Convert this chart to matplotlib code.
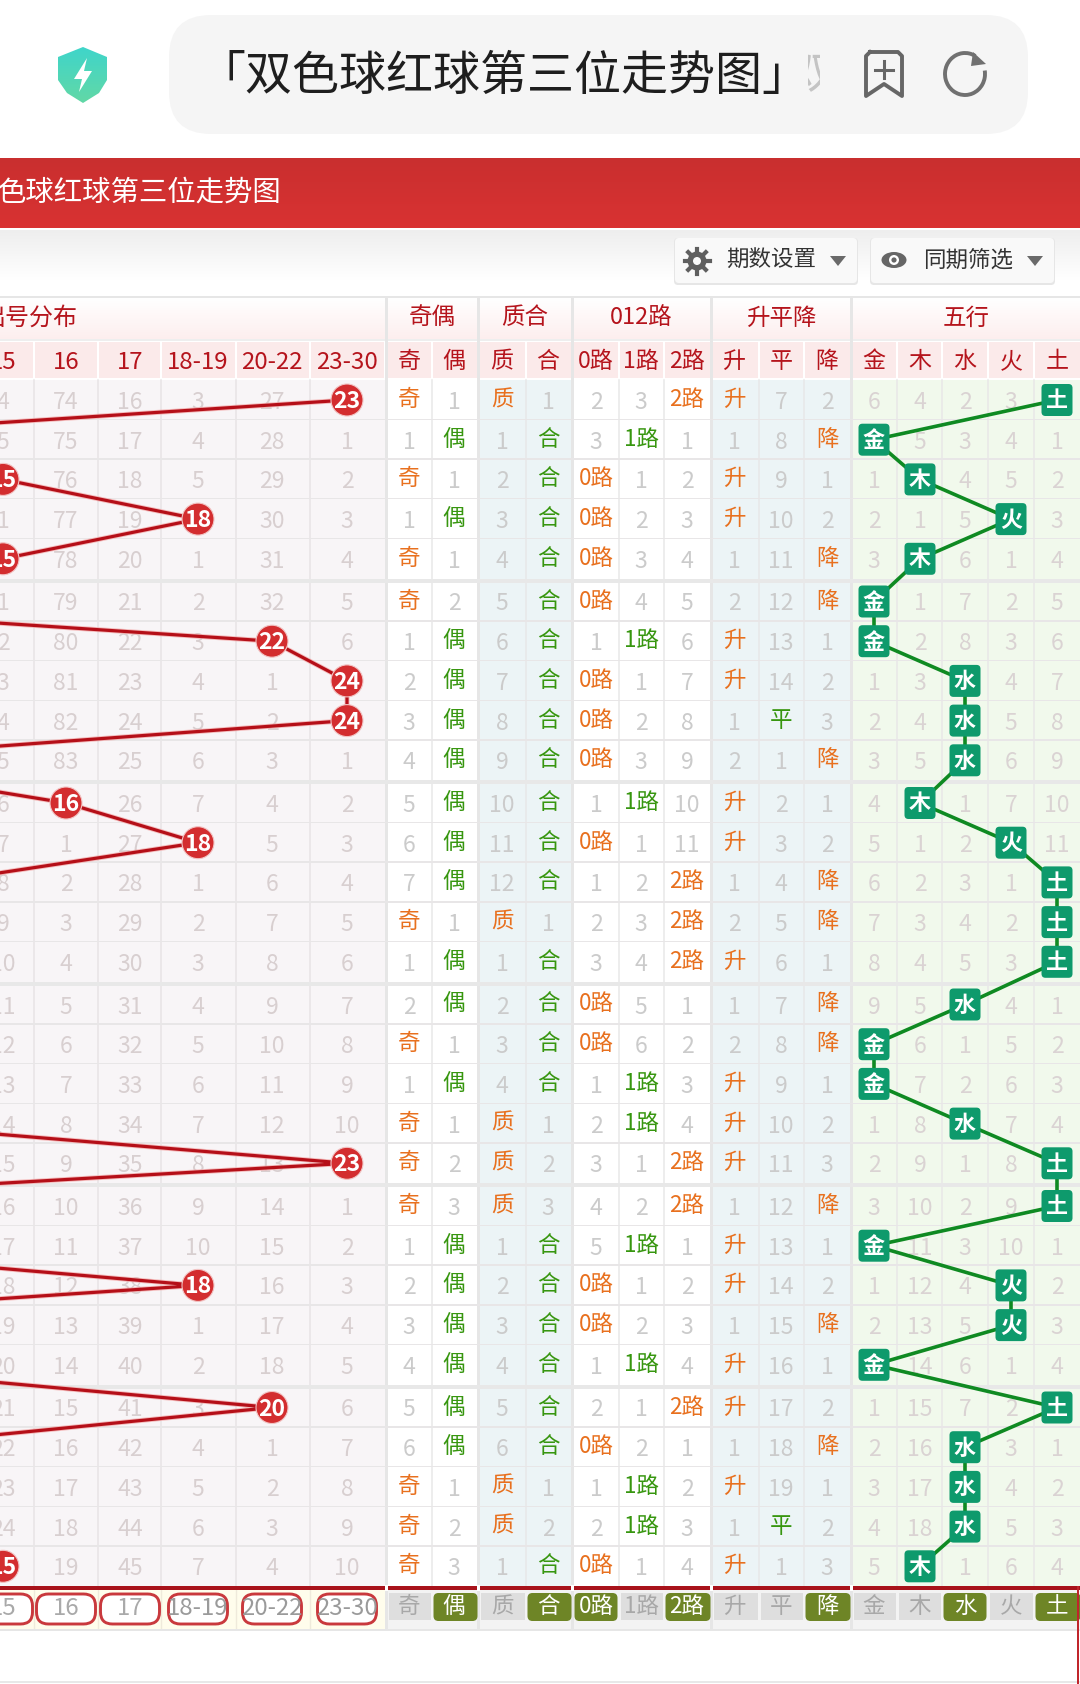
import numpy as np
import matplotlib

matplotlib.use("Agg")

import matplotlib.pyplot as plt
from matplotlib.colors import to_rgb
from matplotlib.patches import Circle, Ellipse, FancyBboxPatch, Polygon, Rectangle, Arc

plt.rcParams["font.family"] = ["Noto Sans CJK SC", "DejaVu Sans"]

# number drawn per row, values below 15 are off the left edge of the screenshot
red_ball = [23, 11, 15, 18, 15, 10, 22, 24, 24, 12, 16, 18, 14, 12, 9, 7, 13, 6, 13, 23,
            9, 11, 18, 9, 12, 20, 13, 10, 8, 15]

col_15 = [4, 5, 0, 1, 0, 1, 2, 3, 4, 5, 6, 7, 8, 9, 10, 11, 12, 13, 14, 15, 16, 17, 18, 19, 20, 21, 22, 23, 24, 0]
col_16 = [74, 75, 76, 77, 78, 79, 80, 81, 82, 83, 0, 1, 2, 3, 4, 5, 6, 7, 8, 9, 10, 11, 12, 13, 14, 15, 16, 17, 18, 19]
col_17 = [16, 17, 18, 19, 20, 21, 22, 23, 24, 25, 26, 27, 28, 29, 30, 31, 32, 33, 34, 35, 36, 37, 38, 39, 40, 41, 42, 43, 44, 45]
col_18 = [3, 4, 5, 0, 1, 2, 3, 4, 5, 6, 7, 0, 1, 2, 3, 4, 5, 6, 7, 8, 9, 10, 0, 1, 2, 3, 4, 5, 6, 7]
col_20 = [27, 28, 29, 30, 31, 32, 0, 1, 2, 3, 4, 5, 6, 7, 8, 9, 10, 11, 12, 13, 14, 15, 16, 17, 18, 0, 1, 2, 3, 4]
col_23 = [0, 1, 2, 3, 4, 5, 6, 0, 0, 1, 2, 3, 4, 5, 6, 7, 8, 9, 10, 0, 1, 2, 3, 4, 5, 6, 7, 8, 9, 10]
left_cols = [col_15, col_16, col_17, col_18, col_20, col_23]
left_labels = ["15", "16", "17", "18-19", "20-22", "23-30"]

odd = "奇 1 奇 1 奇 奇 1 2 3 4 5 6 7 奇 1 2 奇 1 奇 奇 奇 1 2 3 4 5 6 奇 奇 奇".split()
even = "1 偶 1 偶 1 2 偶 偶 偶 偶 偶 偶 偶 1 偶 偶 1 偶 1 2 3 偶 偶 偶 偶 偶 偶 1 2 3".split()
prime = "质 1 2 3 4 5 6 7 8 9 10 11 12 质 1 2 3 4 质 质 质 1 2 3 4 5 6 质 质 1".split()
comp = "1 合 合 合 合 合 合 合 合 合 合 合 合 1 合 合 合 合 1 2 3 合 合 合 合 合 合 1 2 合".split()
road0 = "2 3 0路 0路 0路 0路 1 0路 0路 0路 1 0路 1 2 3 0路 0路 1 2 3 4 5 0路 0路 1 2 0路 1 2 0路".split()
road1 = "3 1路 1 2 3 4 1路 1 2 3 1路 1 2 3 4 5 6 1路 1路 1 2 1路 1 2 1路 1 2 1路 1路 1".split()
road2 = "2路 1 2 3 4 5 6 7 8 9 10 11 2路 2路 2路 1 2 3 4 2路 2路 1 2 3 4 2路 1 2 3 4".split()
up = "升 1 升 升 1 2 升 升 1 2 升 升 1 2 升 1 2 升 升 升 1 升 升 1 升 升 1 升 1 升".split()
flat = "7 8 9 10 11 12 13 14 平 1 2 3 4 5 6 7 8 9 10 11 12 13 14 15 16 17 18 19 平 1".split()
down = "2 降 1 2 降 降 1 2 3 降 1 2 降 降 1 降 降 1 2 3 降 1 2 降 1 2 降 1 2 3".split()
metal = "6 金 1 2 3 金 金 1 2 3 4 5 6 7 8 9 金 金 1 2 3 金 1 2 金 1 2 3 4 5".split()
wood = "4 5 木 1 木 1 2 3 4 5 木 1 2 3 4 5 6 7 8 9 10 11 12 13 14 15 16 17 18 木".split()
water = "2 3 4 5 6 7 8 水 水 水 1 2 3 4 5 水 1 2 水 1 2 3 4 5 6 7 水 水 水 1".split()
fire = "3 4 5 火 1 2 3 4 5 6 7 火 1 2 3 4 5 6 7 8 9 10 火 火 1 2 3 4 5 6".split()
earth = "土 1 2 3 4 5 6 7 8 9 10 11 土 土 土 1 2 3 4 土 土 1 2 3 4 土 1 2 3 4".split()
right_cols = [odd, even, prime, comp, road0, road1, road2, up, flat, down, metal, wood, water, fire, earth]
right_labels = ["奇", "偶", "质", "合", "0路", "1路", "2路", "升", "平", "降", "金", "木", "水", "火", "土"]
bottom_hits = [0, 1, 0, 1, 1, 0, 1, 0, 0, 1, 0, 0, 1, 0, 1]

groups = ["奇偶", "质合", "012路", "升平降", "五行"]

# layout in screenshot pixels
left_edges = [-28, 34, 98, 161, 236, 310, 385]
left_x = [3, 66, 130, 198, 272, 347]
right_edges = [387, 432, 479, 526, 573, 619, 664, 712, 759, 804, 852, 897, 942, 988, 1034, 1082]
right_x = [409, 454, 502, 548, 596, 641, 687, 734, 781, 827, 874, 920, 965, 1011, 1057]
group_edges = [387, 479, 573, 712, 852, 1082]
group_span = [(0, 2), (2, 4), (4, 7), (7, 10), (10, 15)]
group_bg = ["#ffffff", "#ecf4f6", "#ffffff", "#ecf4f6", "#f1f9ec"]
row_y = [400 + 39.7 * k + 3 * (k // 5) for k in range(30)]
top, bottom = 380, 1586

HIT_ORANGE = "#e8701e"
HIT_GREEN = "#37960f"
HEAD_RED = "#b5141c"
FONT = 0.72  # px to pt
TEXT_DROP = 2.5  # the CJK font sits a little high with va=center


def ball_x(n):
    if n < 15:
        return left_x[0] + (n - 15) * 66
    if n <= 17:
        return left_x[n - 15]
    if n <= 19:
        return left_x[3]
    if n <= 22:
        return left_x[4]
    return left_x[5]


fig = plt.figure(figsize=(10.8, 16.84), dpi=100)
ax = fig.add_axes([0, 0, 1, 1])
ax.axis("off")


def grad(x0, x1, y0, y1, c0, c1, zorder=1):
    t = np.linspace(0, 1, 64)[:, None, None]
    img = (1 - t) * np.array(to_rgb(c0))[None, None, :] + t * np.array(to_rgb(c1))[None, None, :]
    return ax.imshow(img, extent=(x0, x1, y1, y0), aspect="auto", zorder=zorder, interpolation="bilinear")


def rect(x0, x1, y0, y1, color, zorder=1):
    ax.add_patch(Rectangle((x0, y0), x1 - x0, y1 - y0, fc=color, ec="none", zorder=zorder))


def rbox(x0, x1, y0, y1, r, fc, ec="none", lw=0, zorder=3):
    ax.add_patch(FancyBboxPatch((x0 + r, y0 + r), x1 - x0 - 2 * r, y1 - y0 - 2 * r,
                                boxstyle=f"round,pad={r},rounding_size={r}", fc=fc, ec=ec, lw=lw, zorder=zorder))


def label(x, y, s, px, color, zorder=4, weight="normal", ha="center"):
    return ax.text(x, y + TEXT_DROP, s, fontsize=px * FONT, color=color, ha=ha, va="center", zorder=zorder, fontweight=weight)


# browser bar
rbox(169, 1028, 15, 134, 42, "#f5f5f5", zorder=1)
shield = Polygon([(83, 47), (107, 57), (107, 80), (99, 93), (83, 103), (67, 93), (58, 80), (58, 57)], fc="none", ec="none")
ax.add_patch(shield)
grad(58, 107, 47, 103, "#3fd5ca", "#62d8a6", zorder=2).set_clip_path(shield)
ax.add_patch(Polygon([(87, 58), (74, 79), (82, 79), (79, 92), (92, 71), (84, 71)], fc="white", ec="none", zorder=3))
label(198, 74, "「双色球红球第三位走势图」", 47, "#1e1e1e", ha="left")
faded = label(812, 72, "双", 44, "#c4c4c4")
faded.set_clip_on(True)
faded.set_clip_path(Rectangle((808, 40), 12, 70, transform=ax.transData))

# bookmark and reload icons
mark_x = [870, 898, 902, 902, 884, 866, 866, 870]
mark_y = [52, 52, 56, 96, 84, 96, 56, 52]
ax.plot(mark_x, mark_y, color="#666666", lw=2.8, solid_joinstyle="round", zorder=3)
ax.plot([884, 884], [61, 78], color="#666666", lw=2.2, zorder=3)
ax.plot([875, 893], [69.5, 69.5], color="#666666", lw=2.2, zorder=3)
ax.add_patch(Arc((965, 74), 40, 42, theta1=-10, theta2=300, color="#707070", lw=2.8, zorder=3))
ax.add_patch(Polygon([(973, 52), (986, 64), (971, 66)], fc="#707070", ec="none", zorder=3))

# title banner
grad(-1, 1081, 158, 228, "#c92f2f", "#d93232", zorder=1)
label(-2, 190, "色球红球第三位走势图", 28.4, "white", ha="left")
grad(-1, 1081, 230, 280, "#eeeeee", "#ffffff", zorder=1)

# toolbar buttons
for x0, x1, txt, tx, tri in [(675, 857, "期数设置", 725, 838), (871, 1054, "同期筛选", 922, 1035)]:
    rbox(x0 - 1, x1 + 1, 238, 285, 4, "#e6e6e6", zorder=2)
    rbox(x0, x1, 238, 283, 4, "#f9f9f9", zorder=2)
    label(tx + 46, 258, txt, 22.5, "#333333")
    ax.add_patch(Polygon([(tri - 8, 256), (tri + 8, 256), (tri, 266)], fc="#6a6a6a", ec="none", zorder=3))
for a in np.arange(0, 180, 45):
    dx, dy = 12.5 * np.cos(np.radians(a)), 12.5 * np.sin(np.radians(a))
    ax.plot([697 - dx, 697 + dx], [261 - dy, 261 + dy], color="#5f5f5f", lw=3, zorder=3)
ax.add_patch(Circle((697, 261), 9.5, fc="#5f5f5f", ec="none", zorder=3))
ax.add_patch(Circle((697, 261), 4, fc="#f9f9f9", ec="none", zorder=3.1))
ax.add_patch(Ellipse((894, 260), 25, 16, fc="#666666", ec="none", zorder=3))
ax.add_patch(Circle((894, 260), 5, fc="white", ec="none", zorder=4))
ax.add_patch(Circle((894, 260), 2.6, fc="#666666", ec="none", zorder=4))

# header first row
grad(-1, 385, 298, 340, "#ffffff", "#fdeeee", zorder=1)
label(30, 316, "出号分布", 24, HEAD_RED)
for i, name in enumerate(groups):
    grad(group_edges[i], group_edges[i + 1] - 2, 298, 340, "#ffffff", "#fdeeee", zorder=1)
    label((group_edges[i] + group_edges[i + 1]) / 2 - 1, 315.5, name, 23.5, HEAD_RED)
rect(-1, 1081, 296, 298, "#e6e6e6")
rect(-1, 1081, 339, 341, "#eeeeee")

# header second row
for i, name in enumerate(left_labels):
    rect(left_edges[i] + 1, left_edges[i + 1] - 1, 342, 378, "#fbeaea")
    label(left_x[i], 360, name, 24, HEAD_RED)
for i, name in enumerate(right_labels):
    rect(right_edges[i] + 1, right_edges[i + 1] - 1, 342, 378, "#fbeaea")
    label(right_x[i], 359, name, 23, HEAD_RED)

# body backgrounds
rect(-1, 385, top, bottom, "#f8f5f7")
for i, (a, b) in enumerate(group_span):
    rect(right_edges[a], right_edges[b], top, bottom, group_bg[i])
for e in left_edges[1:-1]:
    ax.plot([e, e], [top, bottom], color="#e8e4e6", lw=1.1, zorder=1.5)
for e in right_edges[1:-1]:
    if e not in group_edges:
        ax.plot([e, e], [top, bottom], color="#e8e8e8", lw=1.1, zorder=1.5)
for e in group_edges[:-1]:
    rect(e - 2, e + 1, 296, 1630, "#e6e6e6", zorder=1.6)
for k, y in enumerate(row_y):
    if k and k % 5 == 0:
        rect(-1, 1081, y - 23, y - 19, "#e8e8e8", zorder=1.7)
    elif k:
        rect(-1, 1081, y - 21, y - 19.6, "#e8e6e7", zorder=1.7)

# body numbers
for col, x in zip(left_cols, left_x):
    for v, y in zip(col, row_y):
        if v:
            label(x, y, str(v), 23, "#d8cfd0", zorder=2)

for j, (col, x) in enumerate(zip(right_cols, right_x)):
    for k, (v, y) in enumerate(zip(col, row_y)):
        if v.isdigit():
            label(x, y, v, 23, "#dad3d3" if j >= 10 else "#cbcbcb", zorder=2)
        elif j < 10:
            color = HIT_GREEN if v in ("偶", "合", "1路", "平") else HIT_ORANGE
            label(x, y - 3, v, 22.5, color, zorder=2)

# red trend line and balls
xs = [ball_x(n) for n in red_ball]
ax.plot(xs, row_y, color="#f3a9a9", lw=3.6, zorder=3, alpha=0.75)
ax.plot(xs, row_y, color="#b50f18", lw=2.3, zorder=3.1)
for n, x, y in zip(red_ball, xs, row_y):
    if n >= 15:
        ax.add_patch(Circle((x, y), 16, fc="#d32d2f", ec="#f2c4c4", lw=0.8, zorder=3.5))
        label(x, y - 1, str(n), 23, "white", zorder=4, weight="bold")

# green trend line and chips
elem_idx = [next(j for j in range(10, 15) if not right_cols[j][k].isdigit()) for k in range(30)]
ax.plot([right_x[j] for j in elem_idx], row_y, color="#0f8a22", lw=2.6, zorder=3)
for k, j in enumerate(elem_idx):
    x, y = right_x[j], row_y[k]
    rbox(x - 15.5, x + 15.5, y - 16, y + 16, 4, "#0e9a6c", zorder=3.5)
    label(x, y - 1.5, right_cols[j][k], 22, "white", zorder=4, weight="bold")

# bottom statistics row
rect(-1, 387, 1590, 1629, "#fffdec")
for i, name in enumerate(left_labels):
    c = left_x[i]
    rbox(c - 29.5, c + 29.5, 1594, 1624, 12, "white", ec="#c9393d", lw=2.1, zorder=3)
    label(c, 1606, name, 24, "#a9a9a9" if i < 3 else "#9a9a9a")
for e in left_edges[1:-1]:
    ax.plot([e, e], [1590, 1629], color="#efeadb", lw=1, zorder=1.5)
for i, name in enumerate(right_labels):
    x0, x1 = right_edges[i], right_edges[i + 1]
    rect(x0, x1, 1590, 1629, "#f3f3f3")
    if bottom_hits[i]:
        rbox(x0 + 1.5, x1 - 1.5, 1593, 1621, 5, "#6e8526", zorder=3)
        label(right_x[i], 1604, name, 22.5, "white")
    else:
        rect(x0 + 1.5, x1 - 1.5, 1593, 1620, "#dedede", zorder=3)
        label(right_x[i], 1604, name, 22.5, "#a8a8a8")
rect(-1, 1081, 1586, 1590, "#a8121a", zorder=3)
for e in group_edges[:-1]:
    rect(e - 2, e + 1, 1585, 1591, "#ffffff", zorder=3.2)
rect(-1, 1081, 1629, 1631, "#e6e6e6", zorder=2)
rect(1077, 1079, 1586, 1684, "#c0252b", zorder=3)
rect(-1, 1081, 1681, 1683, "#e8e8e8", zorder=2)

ax.set_xlim(0, 1080)
ax.set_ylim(1684, 0)
fig.savefig("out.png", dpi=100, facecolor="white")
